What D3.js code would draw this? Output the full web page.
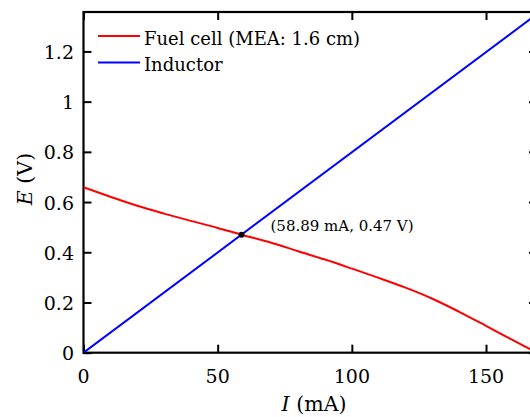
<!DOCTYPE html>
<html>
<head>
<meta charset="utf-8">
<script src="https://cdn.jsdelivr.net/npm/d3@7"></script>
<style>
  html, body { margin: 0; padding: 0; background: #fff; }
  svg { display: block; }
</style>
</head>
<body>
<svg id="chart" width="530" height="417"></svg>
<script>
// Fuel cell polarisation curve (MEA 1.6 cm): current in mA, voltage in V
const fuelCurrent = [0, 10, 20, 30, 40, 50, 58.89, 70, 80, 90, 100, 110, 120, 130, 140, 150, 160, 169];
const fuelVoltage = [0.659, 0.621, 0.585, 0.554, 0.525, 0.497, 0.47, 0.438, 0.404, 0.371, 0.335, 0.298, 0.259, 0.215, 0.163, 0.107, 0.05, 0.0];

// Inductor load line
const inductorCurrent = [0, 169];
const inductorVoltage = [0, 1.349];

// Operating point where the two curves meet
const opCurrent = [58.89];
const opVoltage = [0.47];
const opLabel = "(58.89 mA, 0.47 V)";

const seriesNames = ["Fuel cell (MEA: 1.6 cm)", "Inductor"];
const seriesColors = ["#ff0000", "#0000ff"];

const xTicks = [0, 50, 100, 150];
const yTicks = [0, 0.2, 0.4, 0.6, 0.8, 1, 1.2];
const xDomain = [0, 169];
const yDomain = [0, 1.357];

const FONT = "'DejaVu Serif', serif";

const svg = d3.select("#chart");
const plotLeft = 83.5, plotRight = 537, plotTop = 12, plotBottom = 352.7;

const x = d3.scaleLinear().domain(xDomain).range([plotLeft, plotRight]);
const y = d3.scaleLinear().domain(yDomain).range([plotBottom, plotTop]);

const fmt = d => (d === 0 ? "0" : d3.format("~g")(d));

// Plot frame with inward ticks on all four sides
const axisStyle = g => {
  g.select(".domain").remove();
  g.selectAll(".tick line").attr("stroke", "#000").attr("stroke-width", 2);
};

svg.append("g")
  .attr("transform", `translate(0,${plotBottom})`)
  .call(d3.axisBottom(x).tickValues(xTicks).tickSizeInner(-8).tickSizeOuter(0).tickFormat(""))
  .call(axisStyle);
svg.append("g")
  .attr("transform", `translate(0,${plotTop})`)
  .call(d3.axisTop(x).tickValues(xTicks).tickSizeInner(-8).tickSizeOuter(0).tickFormat(""))
  .call(axisStyle);
svg.append("g")
  .attr("transform", `translate(${plotLeft},0)`)
  .call(d3.axisLeft(y).tickValues(yTicks).tickSizeInner(-8).tickSizeOuter(0).tickFormat(""))
  .call(axisStyle);
svg.append("g")
  .attr("transform", `translate(${plotRight},0)`)
  .call(d3.axisRight(y).tickValues(yTicks).tickSizeInner(-8).tickSizeOuter(0).tickFormat(""))
  .call(axisStyle);

svg.append("rect")
  .attr("x", plotLeft).attr("y", plotTop)
  .attr("width", plotRight - plotLeft).attr("height", plotBottom - plotTop)
  .attr("fill", "none").attr("stroke", "#000").attr("stroke-width", 2.2);

// Tick labels
svg.append("g").selectAll("text").data(xTicks).join("text")
  .attr("x", d => x(d)).attr("y", plotBottom + 30)
  .attr("text-anchor", "middle").attr("font-size", 19)
  .attr("font-family", FONT)
  .text(fmt);
svg.append("g").selectAll("text").data(yTicks).join("text")
  .attr("x", 74).attr("y", d => y(d) + 7.5)
  .attr("text-anchor", "end").attr("font-size", 19)
  .attr("font-family", FONT)
  .text(fmt);

// Axis titles
const xTitle = svg.append("text")
  .attr("x", 314).attr("y", 411)
  .attr("text-anchor", "middle").attr("font-size", 20.5)
  .attr("font-family", FONT);
xTitle.append("tspan").attr("font-style", "italic").text("I");
xTitle.append("tspan").text(" (mA)");

const yTitle = svg.append("text")
  .attr("transform", "translate(32,179) rotate(-90)")
  .attr("text-anchor", "middle").attr("font-size", 20.5)
  .attr("font-family", FONT);
yTitle.append("tspan").attr("font-style", "italic").text("E");
yTitle.append("tspan").text(" (V)");

// Curves, clipped to the plot frame
svg.append("clipPath").attr("id", "plot-clip")
  .append("rect").attr("x", plotLeft).attr("y", plotTop)
  .attr("width", plotRight - plotLeft).attr("height", plotBottom - plotTop);

const smoothLine = d3.line().x(d => x(d[0])).y(d => y(d[1])).curve(d3.curveMonotoneX);
const straightLine = d3.line().x(d => x(d[0])).y(d => y(d[1]));

svg.append("path")
  .datum(fuelCurrent.map((c, i) => [c, fuelVoltage[i]]))
  .attr("d", smoothLine)
  .attr("fill", "none").attr("stroke", seriesColors[0]).attr("stroke-width", 2)
  .attr("clip-path", "url(#plot-clip)");

svg.append("path")
  .datum(inductorCurrent.map((c, i) => [c, inductorVoltage[i]]))
  .attr("d", straightLine)
  .attr("fill", "none").attr("stroke", seriesColors[1]).attr("stroke-width", 2)
  .attr("clip-path", "url(#plot-clip)");

// Operating point marker and its label
svg.append("g").selectAll("circle").data(opCurrent).join("circle")
  .attr("cx", d => x(d)).attr("cy", (d, i) => y(opVoltage[i]))
  .attr("r", 3).attr("fill", "#000");
svg.append("text")
  .attr("x", x(opCurrent[0]) + 29).attr("y", y(opVoltage[0]) - 4)
  .attr("font-size", 15).attr("font-family", FONT)
  .text(opLabel);

// Legend
const legend = svg.append("g").selectAll("g").data(seriesNames).join("g")
  .attr("transform", (d, i) => `translate(98,${36 + i * 26.5})`);
legend.append("line")
  .attr("x1", 0).attr("x2", 42).attr("y1", 0).attr("y2", 0)
  .attr("stroke", (d, i) => seriesColors[i]).attr("stroke-width", 2);
legend.append("text")
  .attr("x", 46).attr("y", 8.5)
  .attr("font-size", 18).attr("font-family", FONT)
  .text(d => d);
</script>
</body>
</html>
